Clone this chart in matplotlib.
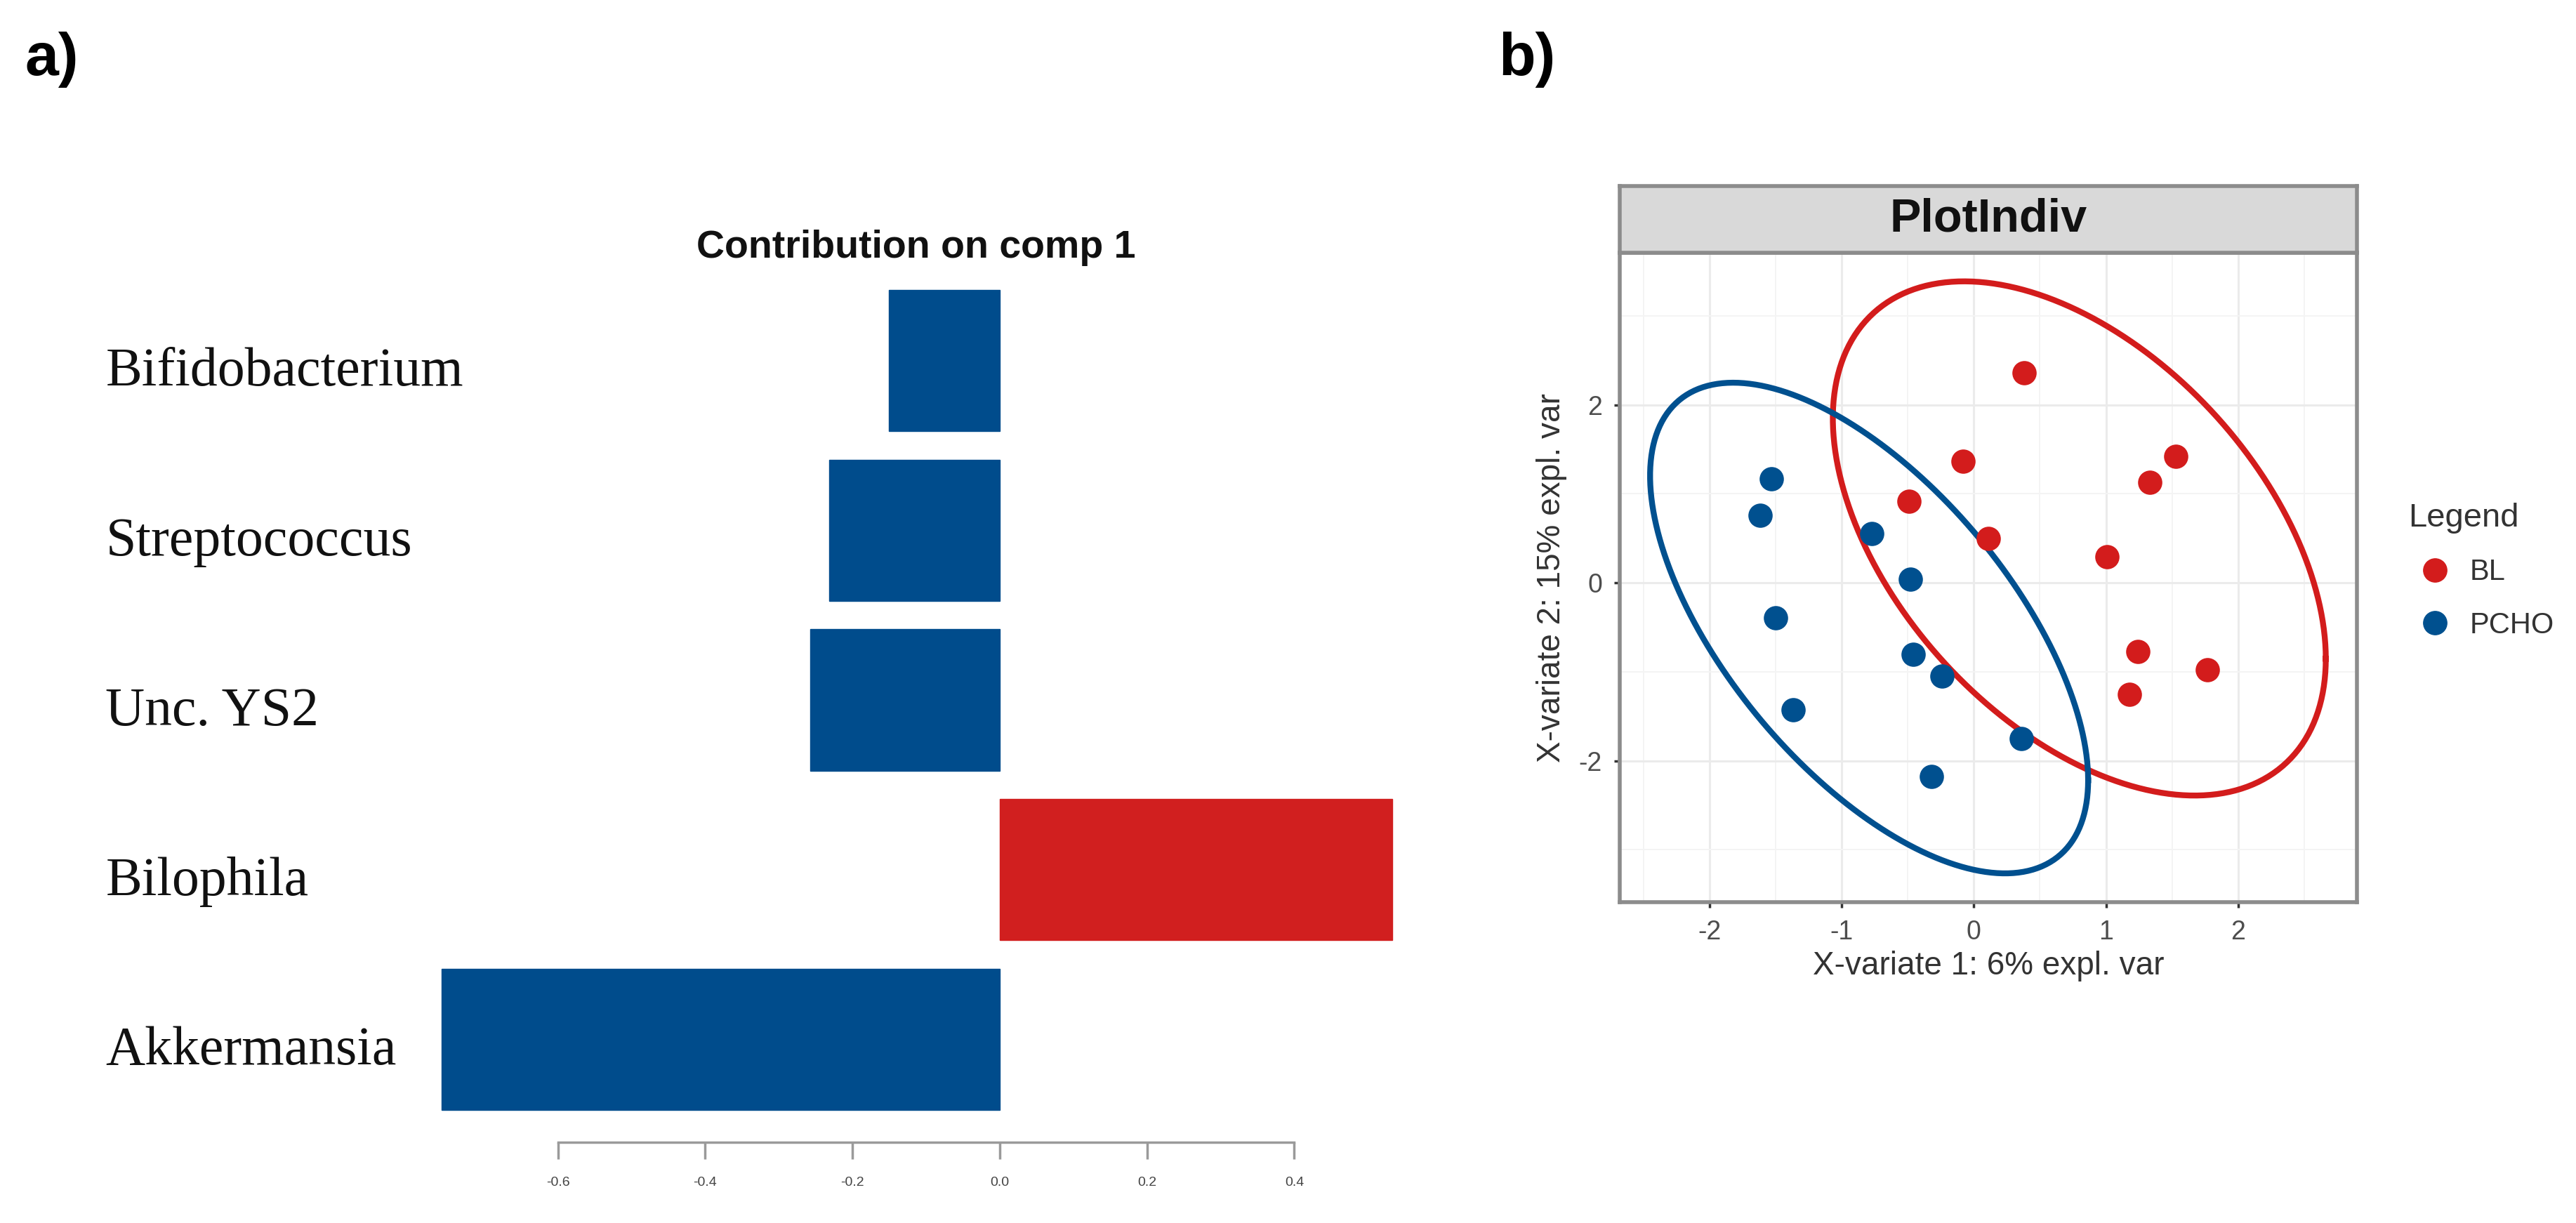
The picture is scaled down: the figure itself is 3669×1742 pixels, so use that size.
import numpy as np
import matplotlib
matplotlib.use("Agg")
import matplotlib.pyplot as plt
from matplotlib.lines import Line2D
from matplotlib.ticker import MultipleLocator
import matplotlib.transforms as mtransforms

# a) loadings on component 1 (bottom to top)
taxa = ["Akkermansia", "Bilophila", "Unc. YS2", "Streptococcus", "Bifidobacterium"]
contrib = [-0.758, 0.533, -0.257, -0.232, -0.151]
bar_xticks = [-0.6, -0.4, -0.2, 0.0, 0.2, 0.4]

# b) individuals on X-variates 1 and 2
bl_x = [0.38, -0.08, -0.49, 0.11, 1.53, 1.33, 1.01, 1.24, 1.77, 1.18]
bl_y = [2.36, 1.37, 0.92, 0.50, 1.42, 1.13, 0.29, -0.77, -0.98, -1.25]
pcho_x = [-1.53, -1.62, -0.77, -0.48, -1.50, -0.46, -0.24, -1.37, 0.36, -0.32]
pcho_y = [1.17, 0.76, 0.55, 0.04, -0.39, -0.80, -1.05, -1.43, -1.75, -2.18]
groups = ["BL", "PCHO"]

BLUE_BAR = "#004C8C"
RED_BAR = "#D11F1F"
RED = "#D31C1C"
BLUE = "#00508F"
SANS = "Liberation Sans"
SERIF = "Liberation Serif"

plt.rcParams.update({"font.family": SANS, "axes.unicode_minus": False})

fig = plt.figure(figsize=(36.69, 17.42), dpi=100)

# ---------------- a) bar chart ----------------
ax1 = fig.add_axes([0.1594, 0.0660, 0.4002, 0.7225])
ypos = np.arange(len(taxa))
colors = [RED_BAR if v > 0 else BLUE_BAR for v in contrib]
ax1.barh(ypos, contrib, height=1 / 1.2, color=colors, edgecolor=colors, linewidth=1)
ax1.set_xlim(-0.8, 0.6)
ax1.set_ylim(-0.606, 4.6)

for s in ["top", "right", "left"]:
    ax1.spines[s].set_visible(False)
ax1.spines["bottom"].set_bounds(bar_xticks[0], bar_xticks[-1])
ax1.spines["bottom"].set_color("#9A9A9A")
ax1.spines["bottom"].set_linewidth(2.5)
ax1.set_xticks(bar_xticks)
ax1.set_xticklabels([f"{t:.1f}" for t in bar_xticks])
ax1.tick_params(axis="x", length=17, width=2.5, color="#9A9A9A",
                labelsize=14, labelcolor="#444444", pad=18)
ax1.set_yticks([])

ax1.text(0.49, 1.012, "Contribution on comp 1", transform=ax1.transAxes,
         ha="center", va="center", fontsize=40, fontweight="bold", color="#111111")

trans = mtransforms.blended_transform_factory(fig.transFigure, ax1.transData)
for i, name in enumerate(taxa):
    ax1.text(0.041, i - 0.07, name, transform=trans, ha="left", va="center",
             fontsize=56, family=SERIF, color="#111111")

# ---------------- b) scatter ----------------
ax2 = fig.add_axes([0.6288, 0.2623, 0.2862, 0.5310])
ax2.set_xlim(-2.68, 2.90)
ax2.set_ylim(-3.59, 3.71)
ax2.xaxis.set_major_locator(MultipleLocator(1))
ax2.xaxis.set_minor_locator(MultipleLocator(0.5))
ax2.yaxis.set_major_locator(MultipleLocator(2))
ax2.yaxis.set_minor_locator(MultipleLocator(1))
ax2.grid(which="major", color="#EBEBEB", linewidth=2.2)
ax2.grid(which="minor", color="#F4F4F4", linewidth=1.4)
ax2.set_axisbelow(True)
for s in ax2.spines.values():
    s.set_color("#8C8C8C")
    s.set_linewidth(4)
ax2.tick_params(which="major", length=6, width=2.5, color="#333333",
                labelsize=27, labelcolor="#4D4D4D", pad=12)
ax2.tick_params(which="minor", length=0)


def conf_ellipse(x, y, n=200):
    # 95% confidence ellipse, chi-square quantile with 2 dof
    x = np.asarray(x)
    y = np.asarray(y)
    cov = np.cov(x, y)
    t = np.sqrt(-2 * np.log(0.05))
    L = np.linalg.cholesky(cov)
    a = np.linspace(0, 2 * np.pi, n)
    circ = np.vstack([np.cos(a), np.sin(a)])
    pts = t * L @ circ
    return x.mean() + pts[0], y.mean() + pts[1]


ex, ey = conf_ellipse(bl_x, bl_y)
ax2.plot(ex, ey, color=RED, linewidth=6, zorder=2)
ex, ey = conf_ellipse(pcho_x, pcho_y)
ax2.plot(ex, ey, color=BLUE, linewidth=6, zorder=2)

ax2.scatter(bl_x, bl_y, s=620, color=RED, zorder=3, linewidths=0)
ax2.scatter(pcho_x, pcho_y, s=620, color=BLUE, zorder=3, linewidths=0)

ax2.set_xlabel("X-variate 1: 6% expl. var", fontsize=33, color="#333333", labelpad=6)
ax2.set_ylabel("X-variate 2: 15% expl. var", fontsize=33, color="#333333", labelpad=12)

# facet strip
strip = fig.add_axes([0.6288, 0.7933, 0.2862, 0.0546])
strip.set_facecolor("#D9D9D9")
strip.set_xticks([])
strip.set_yticks([])
for s in strip.spines.values():
    s.set_color("#8C8C8C")
    s.set_linewidth(4)
strip.text(0.5, 0.5, "PlotIndiv", ha="center", va="center",
           fontsize=48, fontweight="bold", color="#111111", transform=strip.transAxes)

handles = [Line2D([], [], linestyle="none", marker="o", markersize=24,
                  markerfacecolor=c, markeredgecolor=c) for c in (RED, BLUE)]
leg = ax2.legend(handles, groups, title="Legend", loc="center left",
                 bbox_to_anchor=(1.0695, 0.51), frameon=False, borderpad=0,
                 borderaxespad=0, fontsize=30, title_fontsize=34,
                 handlelength=1.8, handletextpad=0.3, labelspacing=0.85,
                 alignment="left")
for txt in leg.get_texts():
    txt.set_color("#333333")
leg.get_title().set_color("#333333")

# panel letters
fig.text(0.0098, 0.974, "a)", ha="left", va="top", fontsize=62, fontweight="bold")
fig.text(0.5816, 0.974, "b)", ha="left", va="top", fontsize=62, fontweight="bold")

fig.savefig("out.png", dpi=100, facecolor="white")
